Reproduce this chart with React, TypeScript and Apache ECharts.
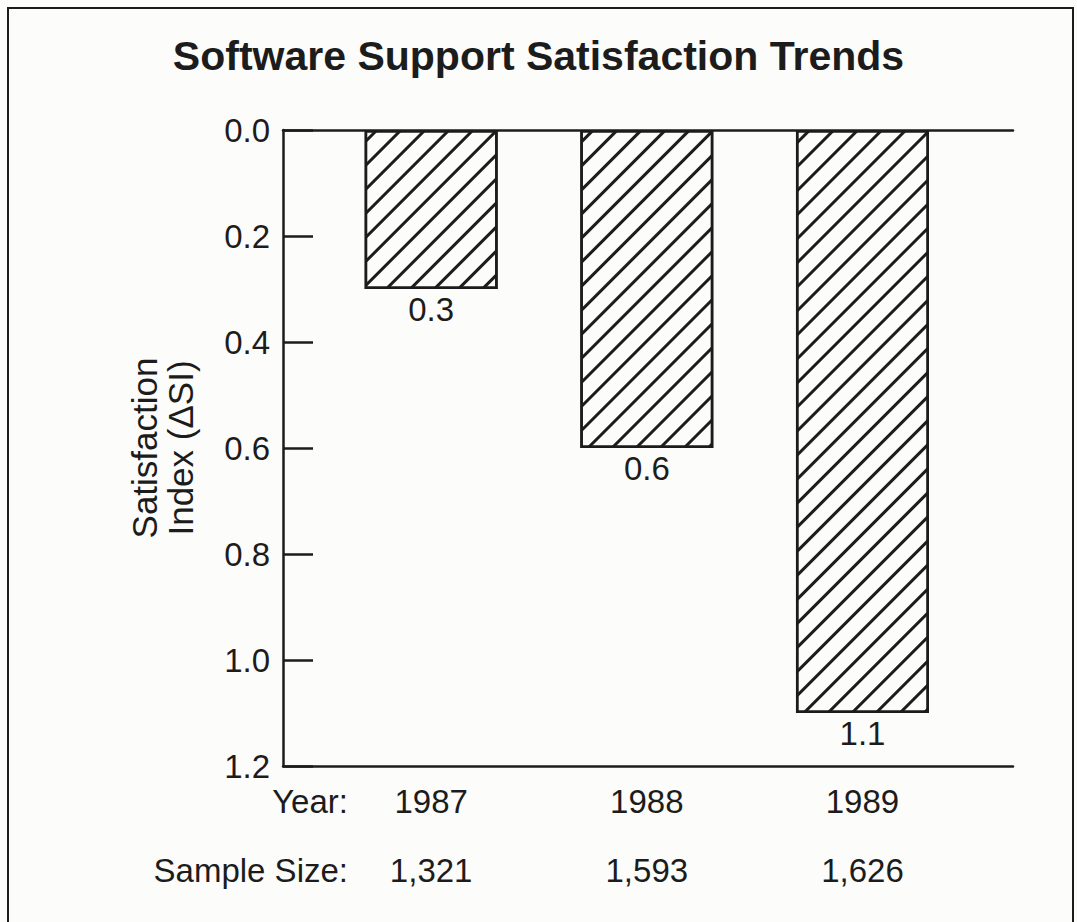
import React, { useEffect, useRef } from "react";
import * as echarts from "echarts";

const years = [1987, 1988, 1989];
const sampleSizes = ["1,321", "1,593", "1,626"];
const satisfaction = [0.3, 0.6, 1.1];
const yMin = 0;
const yMax = 1.2;
const yStep = 0.2;
const xMin = 1986.313;
const xMax = 1989.698;

const FONT = "'Liberation Sans', Arial, Helvetica, sans-serif";
const INK = "#1c1c1c";

export default function App() {
  const ref = useRef<HTMLDivElement>(null);
  useEffect(() => {
    if (!ref.current) return;
    const chart = echarts.init(ref.current, null, { renderer: "svg" });
    const sizeOf: Record<number, string> = {};
    years.forEach((y, i) => (sizeOf[y] = sampleSizes[i]));
    chart.setOption({
      animation: false,
      backgroundColor: "#fcfcfa",
      textStyle: { fontFamily: FONT },
      title: {
        text: "Software Support Satisfaction Trends",
        left: "center",
        top: 30,
        textStyle: { fontFamily: FONT, fontSize: 41, fontWeight: "bold", color: INK },
      },
      grid: { left: 283, right: 64, top: 130, bottom: 156 },
      xAxis: [
        {
          type: "value",
          position: "bottom",
          min: xMin,
          max: xMax,
          axisLine: { show: true, onZero: false, lineStyle: { color: INK, width: 2.5 } },
          axisTick: { show: false },
          splitLine: { show: false },
          axisLabel: {
            customValues: years,
            formatter: (v: number) => `${Math.round(v)}\n${sizeOf[Math.round(v)] ?? ""}`,
            fontFamily: FONT,
            fontSize: 33,
            lineHeight: 69,
            margin: 1,
            color: INK,
          },
        },
        {
          type: "value",
          position: "top",
          min: xMin,
          max: xMax,
          axisLine: { show: true, onZero: false, lineStyle: { color: INK, width: 2.5 } },
          axisTick: { show: false },
          axisLabel: { show: false },
          splitLine: { show: false },
        },
      ],
      yAxis: {
        type: "value",
        inverse: true,
        min: yMin,
        max: yMax,
        interval: yStep,
        name: "Satisfaction\nIndex (ΔSI)",
        nameLocation: "middle",
        nameRotate: 90,
        nameGap: 85,
        nameTextStyle: { fontFamily: FONT, fontSize: 35, color: INK, lineHeight: 36 },
        axisLine: { show: true, lineStyle: { color: INK, width: 2.5 } },
        axisTick: { show: true, inside: true, length: 30, lineStyle: { color: INK, width: 2.5 } },
        splitLine: { show: false },
        axisLabel: {
          formatter: (v: number) => v.toFixed(1),
          fontFamily: FONT,
          fontSize: 33,
          margin: 13,
          color: INK,
        },
      },
      series: [
        {
          type: "bar",
          xAxisIndex: 0,
          data: years.map((y, i) => [y, satisfaction[i]]),
          barWidth: 133,
          itemStyle: {
            color: "#fcfcfa",
            borderColor: INK,
            borderWidth: 2.5,
            decal: {
              symbol: "rect",
              symbolSize: 1,
              dashArrayX: [1, 0],
              dashArrayY: [2.4, 14],
              rotation: -Math.PI / 4,
              color: INK,
              backgroundColor: "#fcfcfa",
            },
          },
          label: {
            show: true,
            position: "bottom",
            distance: 4,
            formatter: (p: any) => Number(p.value[1]).toFixed(1),
            fontFamily: FONT,
            fontSize: 33,
            color: INK,
          },
        },
      ],
      graphic: [
        {
          type: "rect",
          shape: { x: 8, y: 8, width: 1065, height: 1000 },
          style: { fill: "none", stroke: INK, lineWidth: 2 },
          silent: true,
        },
        {
          type: "text",
          x: 348,
          y: 801,
          style: { text: "Year:", fontFamily: FONT, fontSize: 33, fill: INK, textAlign: "right", textVerticalAlign: "middle" },
        },
        {
          type: "text",
          x: 348,
          y: 870,
          style: { text: "Sample Size:", fontFamily: FONT, fontSize: 33, fill: INK, textAlign: "right", textVerticalAlign: "middle" },
        },
      ],
    });
    return () => chart.dispose();
  }, []);
  return (
    <div
      ref={ref}
      style={{ position: "fixed", left: 0, top: 0, width: 1077, height: 922 }}
    />
  );
}
